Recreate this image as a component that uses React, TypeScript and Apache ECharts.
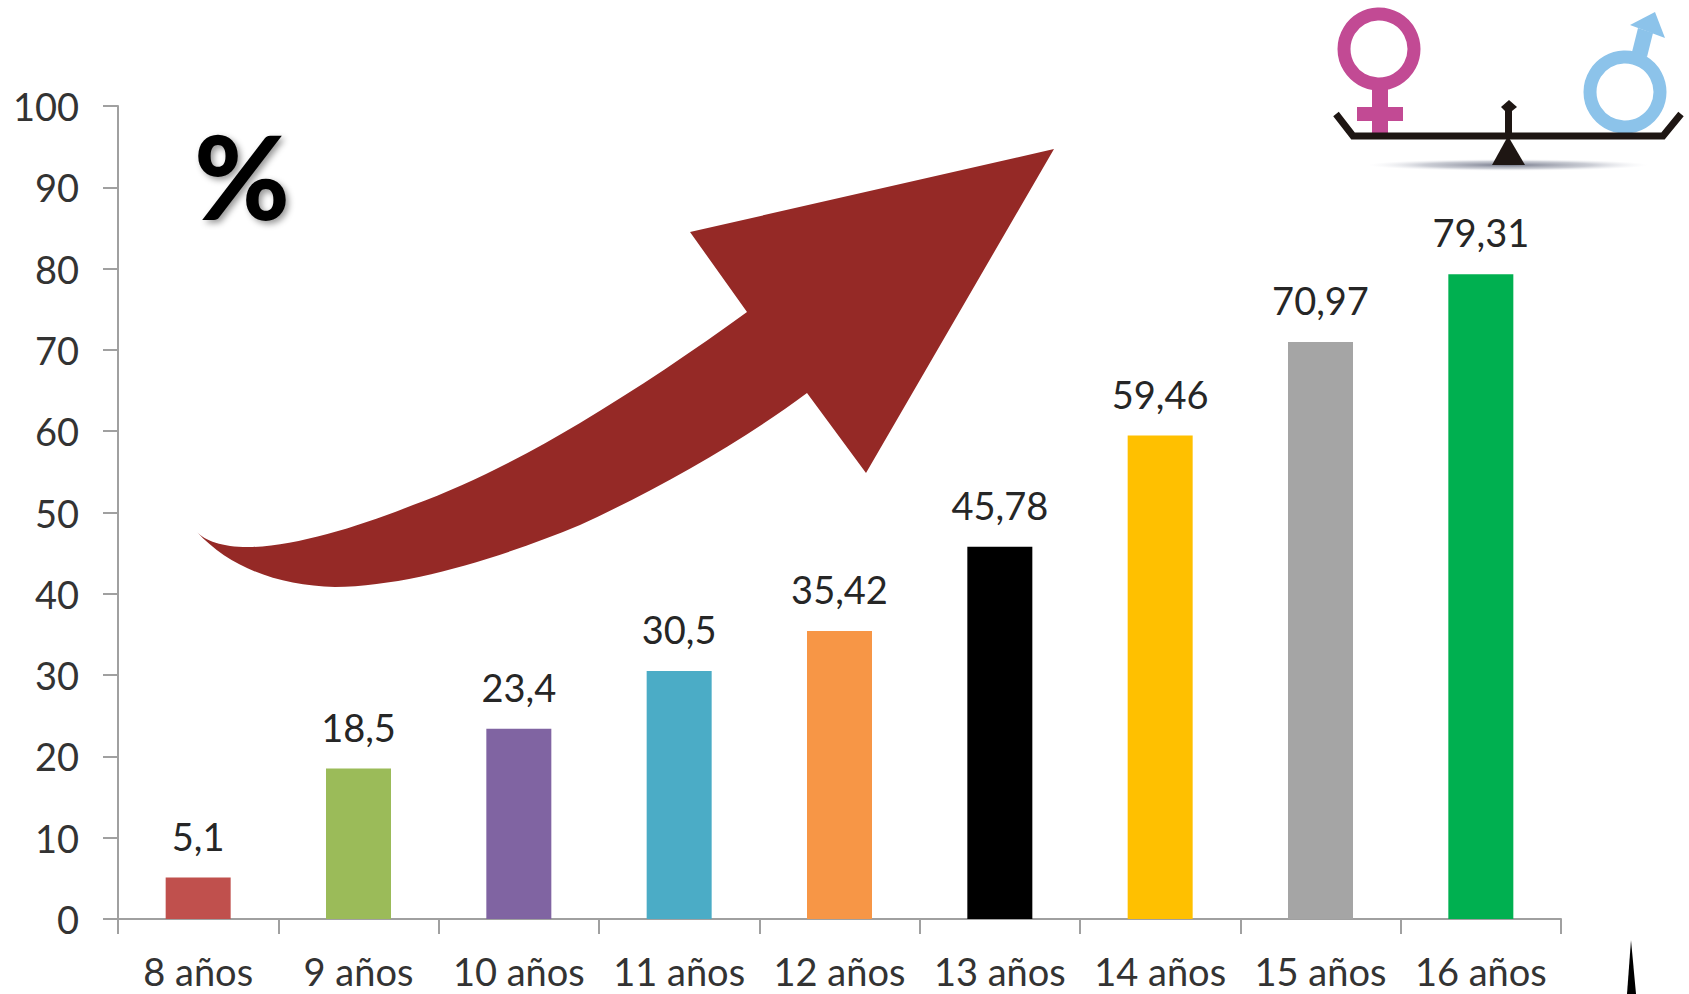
import React, { useEffect, useRef } from "react";
import * as echarts from "echarts";

const categories = ["8 años", "9 años", "10 años", "11 años", "12 años", "13 años", "14 años", "15 años", "16 años"];
const percentages = [5.1, 18.5, 23.4, 30.5, 35.42, 45.78, 59.46, 70.97, 79.31];
const barColors = ["#C0504D", "#9BBB59", "#8064A2", "#4BACC6", "#F79646", "#000000", "#FFC000", "#A5A5A5", "#00B050"];

const FONT = "Lato";
const WIDTH = 1689;
const HEIGHT = 994;

// Rising trend arrow sitting behind the bars' upper-left area.
const TREND_ARROW =
  "M197,532 C205,541 225,548 253,547 C300,545 360,526 413,505 C470,484 530,453 580,423 " +
  "C635,390 695,350 747,312 L690,232 L1054,149 L866,473 L807,393 " +
  "C740,443 660,488 580,525 C500,558 410,586 335,587 C280,586 230,568 197,532 Z";
echarts.graphic.registerShape("trendArrow", echarts.graphic.extendPath(TREND_ARROW, {}));

const PINK = "#C24A94";
const BLUE = "#8CC3EA";
const INK = "#1E1613";

// Balance scale with the female and male symbols on its pans.
const balanceIcon = [
  {
    type: "ellipse",
    shape: { cx: 1508, cy: 165, rx: 140, ry: 6 },
    style: {
      fill: {
        type: "radial", x: 0.5, y: 0.5, r: 0.5,
        colorStops: [
          { offset: 0, color: "rgba(95,100,120,0.85)" },
          { offset: 0.6, color: "rgba(150,155,170,0.5)" },
          { offset: 1, color: "rgba(220,222,230,0)" },
        ],
      },
    },
  },
  { type: "rect", shape: { x: 1372, y: 88, width: 16, height: 46 }, style: { fill: PINK } },
  { type: "rect", shape: { x: 1357, y: 107, width: 46, height: 14 }, style: { fill: PINK } },
  { type: "circle", shape: { cx: 1379, cy: 49, r: 35 }, style: { fill: "none", stroke: PINK, lineWidth: 13 } },
  { type: "polygon", shape: { points: [[1632, 52], [1647, 57], [1653, 33], [1638, 28]] }, style: { fill: BLUE } },
  { type: "polygon", shape: { points: [[1655, 12], [1630, 25], [1665, 38]] }, style: { fill: BLUE } },
  { type: "circle", shape: { cx: 1625, cy: 92, r: 35 }, style: { fill: "none", stroke: BLUE, lineWidth: 13 } },
  {
    type: "polyline",
    shape: { points: [[1336, 114], [1353, 136], [1663, 136], [1681, 114]] },
    style: { fill: "none", stroke: INK, lineWidth: 7 },
  },
  { type: "polygon", shape: { points: [[1508, 136], [1492, 165], [1525, 165]] }, style: { fill: INK } },
  { type: "rect", shape: { x: 1505, y: 108, width: 7, height: 30 }, style: { fill: INK } },
  { type: "polygon", shape: { points: [[1509, 100], [1501, 107], [1505, 111], [1512, 111], [1517, 107]] }, style: { fill: INK } },
];

export default function App() {
  const ref = useRef<HTMLDivElement>(null);

  useEffect(() => {
    const chart = echarts.init(ref.current!, null, { renderer: "svg" });
    chart.setOption({
      animation: false,
      backgroundColor: "#FFFFFF",
      grid: { left: 118, top: 106, width: 1443, height: 813, containLabel: false },
      xAxis: {
        type: "category",
        data: categories,
        axisLine: { lineStyle: { color: "#A0A0A0", width: 2 } },
        axisTick: { show: true, length: 15, alignWithLabel: false, lineStyle: { color: "#A0A0A0", width: 2 } },
        axisLabel: { color: "#333333", fontFamily: FONT, fontSize: 38, margin: 33, interval: 0 },
      },
      yAxis: {
        type: "value",
        min: 0,
        max: 100,
        interval: 10,
        splitLine: { show: false },
        axisLine: { show: true, lineStyle: { color: "#A0A0A0", width: 2 } },
        axisTick: { show: true, length: 15, lineStyle: { color: "#A0A0A0", width: 2 } },
        axisLabel: { color: "#333333", fontFamily: FONT, fontSize: 38, margin: 39 },
      },
      series: [
        {
          type: "bar",
          barWidth: 65,
          data: percentages.map((value, i) => ({ value, itemStyle: { color: barColors[i] } })),
          label: {
            show: true,
            position: "top",
            distance: 23,
            color: "#262626",
            fontFamily: FONT,
            fontSize: 38,
            formatter: (p: { value: number }) => String(p.value).replace(".", ","),
          },
        },
      ],
      graphic: {
        elements: [
          { type: "trendArrow", x: 0, y: 0, style: { fill: "#952926" } },
          {
            type: "text",
            x: 242,
            y: 175,
            style: {
              text: "%",
              fill: "#000000",
              fontFamily: FONT,
              fontWeight: 900,
              fontSize: 116,
              align: "center",
              verticalAlign: "middle",
              textShadowColor: "rgba(0,0,0,0.4)",
              textShadowBlur: 6,
              textShadowOffsetX: 3,
              textShadowOffsetY: 3,
            },
          },
          ...balanceIcon,
          // Sliver of a pointed shape entering at the bottom edge.
          { type: "polygon", shape: { points: [[1631, 940], [1627, 994], [1636, 994]] }, style: { fill: "#000000" } },
        ],
      },
    });
    return () => chart.dispose();
  }, []);

  return (
    <div
      ref={ref}
      style={{ position: "fixed", left: 0, top: 0, width: WIDTH, height: HEIGHT, background: "#FFFFFF" }}
    />
  );
}
